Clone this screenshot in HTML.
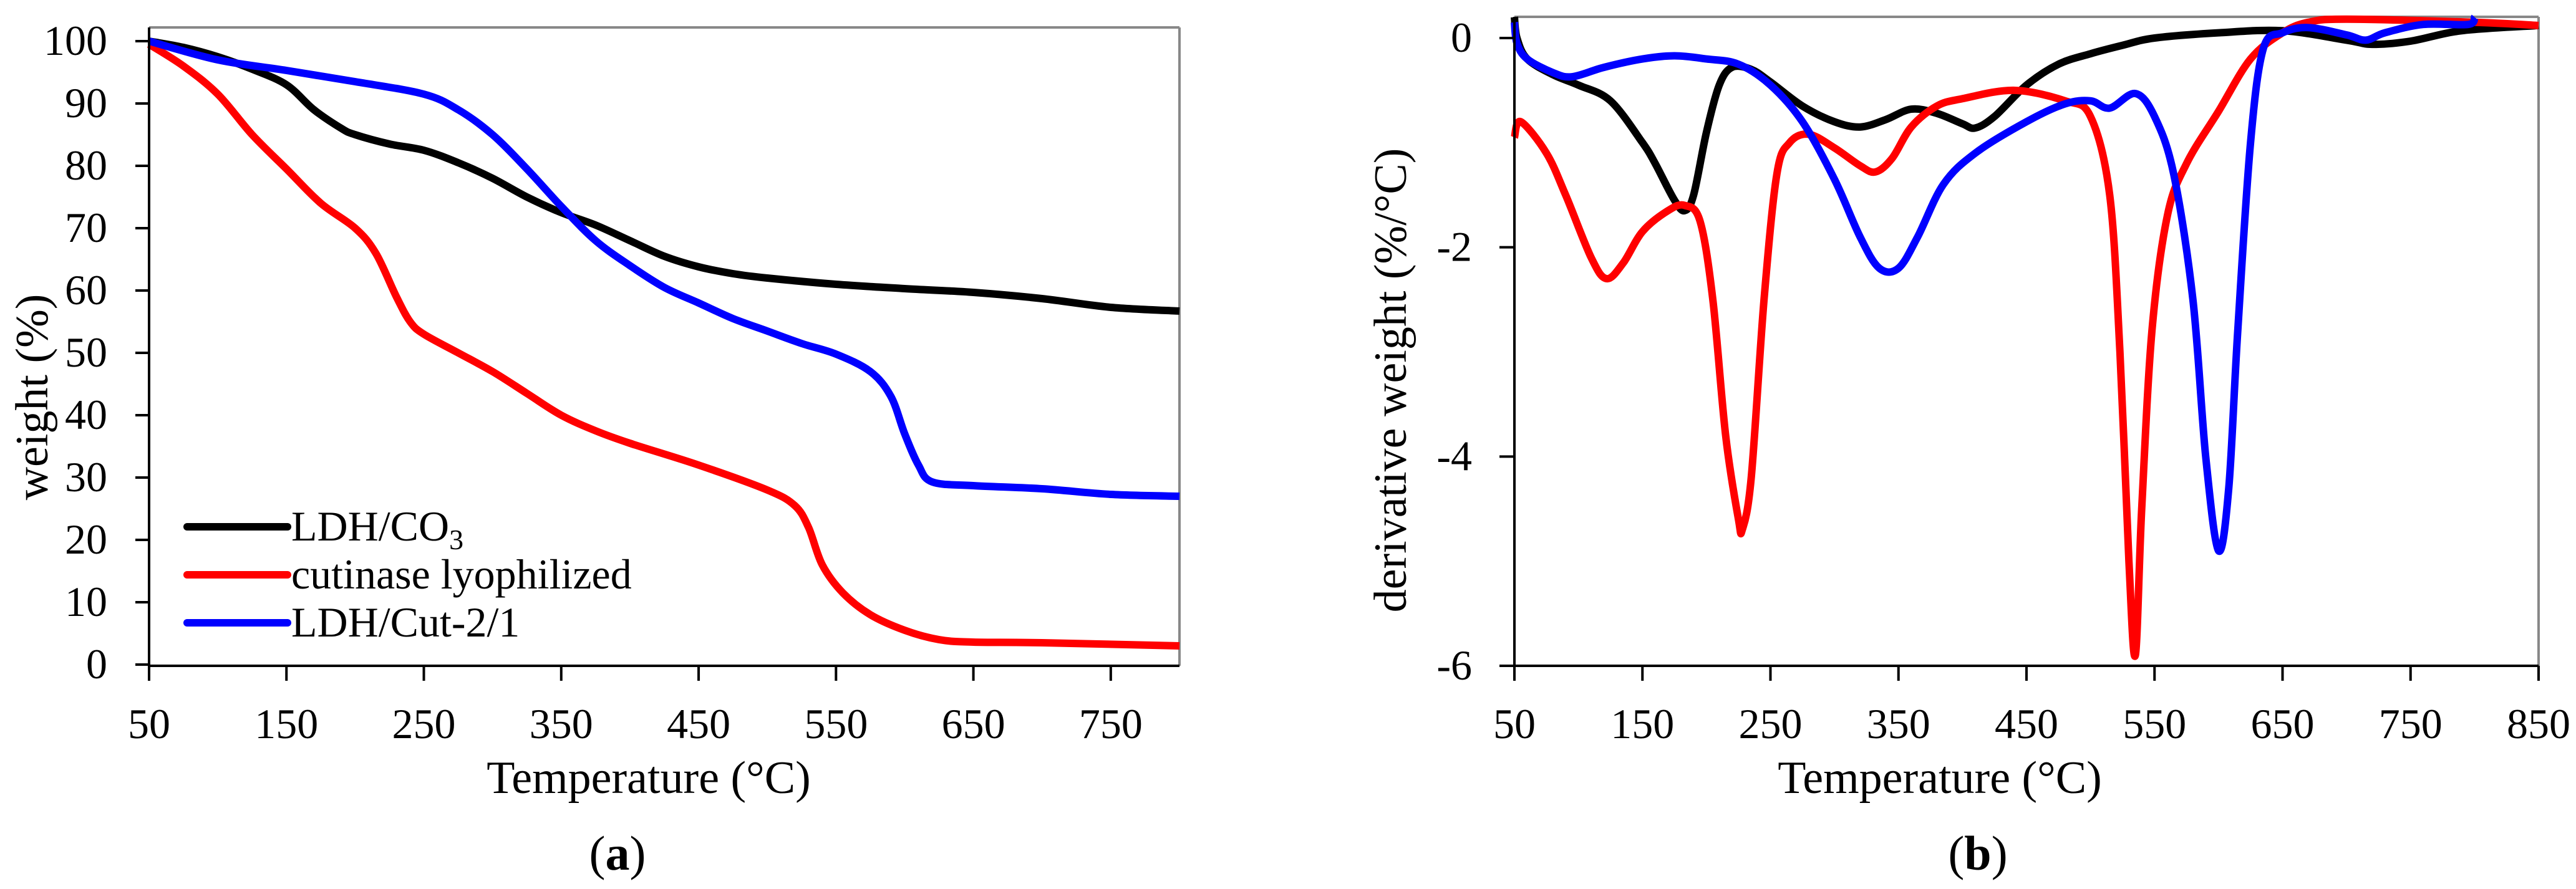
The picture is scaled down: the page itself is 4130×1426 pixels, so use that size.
<!DOCTYPE html>
<html><head><meta charset="utf-8"><style>
html,body{margin:0;padding:0;background:#fff;}
svg{display:block;}
text{font-family:"Liberation Serif",serif;fill:#000;}
</style></head><body>
<svg id="fig" width="4130" height="1426" viewBox="0 0 4130 1426" xmlns="http://www.w3.org/2000/svg"></svg>
<script>
// ---- Panel (a) data ----
const tgaBlackX=[50,75,100,125,150,170,190,200,225,250,275,300,325,350,375,400,425,450,475,500,550,600,650,700,750,800];
const tgaBlackY=[100,99,97.5,95.5,93,89,86,85,83.5,82.5,80.5,78,75,72.5,70.5,68,65.5,63.8,62.7,62,61,60.3,59.7,58.7,57.3,56.7];
const tgaRedX=[50,75,100,125,150,175,200,215,230,240,250,275,300,325,350,375,400,450,500,520,530,540,555,575,600,625,650,700,800];
const tgaRedY=[99.5,96,91.5,85,79.5,74,70,66,59,55,53,50,47,43.5,40,37.5,35.5,32,28,25.5,22,16,11.5,8,5.5,4,3.6,3.5,3];
const tgaBlueX=[50,100,150,200,250,275,300,325,350,375,400,425,450,475,500,525,550,575,590,600,610,620,650,700,750,800];
const tgaBlueY=[100,97,95.3,93.5,91.5,89,85,79.5,73.5,68,64,60.5,58,55.5,53.5,51.5,49.8,47,43,37,32,29.3,28.7,28.2,27.3,27];
const aXTicks=[50,150,250,350,450,550,650,750];
const aYTicks=[0,10,20,30,40,50,60,70,80,90,100];
const legendLabels=["LDH/CO","cutinase lyophilized","LDH/Cut-2/1"];
// ---- Panel (b) data ----
const dtgBlackX=[50,52,60,80,100,125,150,160,175,183,190,200,210,220,235,250,275,300,320,340,360,380,400,410,425,450,475,500,525,550,600,650,700,720,750,790,850];
const dtgBlackY=[0.2,0,-0.2,-0.35,-0.45,-0.6,-1.0,-1.2,-1.55,-1.65,-1.5,-0.9,-0.45,-0.28,-0.3,-0.42,-0.65,-0.8,-0.85,-0.78,-0.68,-0.72,-0.82,-0.86,-0.75,-0.45,-0.25,-0.15,-0.07,0,0.05,0.07,-0.02,-0.06,-0.03,0.07,0.12];
const dtgRedX=[50,55,75,90,110,122,135,150,170,183,195,205,215,225,228,235,245,255,265,280,300,320,332,345,360,380,400,440,480,500,515,523,530,535,540,548,560,575,600,625,650,670,700,800,850];
const dtgRedY=[-0.95,-0.8,-1.1,-1.5,-2.1,-2.3,-2.15,-1.85,-1.65,-1.6,-1.75,-2.5,-3.8,-4.6,-4.7,-4.2,-2.5,-1.3,-1.0,-0.92,-1.05,-1.22,-1.28,-1.15,-0.85,-0.65,-0.58,-0.5,-0.6,-0.75,-1.5,-3.0,-5.0,-5.9,-4.5,-2.8,-1.7,-1.2,-0.7,-0.2,0.05,0.15,0.18,0.15,0.12];
const dtgBlueX=[50,52,60,80,95,120,150,175,200,225,250,275,300,320,335,350,365,385,410,450,480,500,515,535,550,565,580,590,600,608,615,625,635,650,670,700,715,730,760,795,800];
const dtgBlueY=[0.15,-0.05,-0.2,-0.33,-0.37,-0.28,-0.2,-0.17,-0.2,-0.25,-0.45,-0.8,-1.35,-1.9,-2.2,-2.2,-1.9,-1.4,-1.1,-0.8,-0.63,-0.6,-0.67,-0.53,-0.75,-1.3,-2.5,-4.0,-4.9,-4.3,-2.8,-1.0,-0.1,0.05,0.1,0.03,-0.02,0.05,0.13,0.13,0.2];
const bXTicks=[50,150,250,350,450,550,650,750,850];
const bYTicks=[0,-2,-4,-6];

const NS="http://www.w3.org/2000/svg";
const svg=document.getElementById('fig');
function mk(tag,attrs,parent){const e=document.createElementNS(NS,tag);for(const k in attrs)e.setAttribute(k,attrs[k]);(parent||svg).appendChild(e);return e;}
function smooth(pts){let d="M"+pts[0][0].toFixed(1)+","+pts[0][1].toFixed(1);
 for(let i=0;i<pts.length-1;i++){const p0=pts[i-1]||pts[i],p1=pts[i],p2=pts[i+1],p3=pts[i+2]||p2;
  const c1=[p1[0]+(p2[0]-p0[0])/6,p1[1]+(p2[1]-p0[1])/6],c2=[p2[0]-(p3[0]-p1[0])/6,p2[1]-(p3[1]-p1[1])/6];
  d+="C"+c1[0].toFixed(1)+","+c1[1].toFixed(1)+" "+c2[0].toFixed(1)+","+c2[1].toFixed(1)+" "+p2[0].toFixed(1)+","+p2[1].toFixed(1);}
 return d;}

// Panel a scales
const ax=v=>239+(v-50)*(1891-239)/750;
const ay=v=>1066-v*10.0;
// Panel b scales
const bx=v=>2428+(v-50)*(4070-2428)/800;
const by=v=>61-v*(1068-61)/6;

// frames
let e;
e=mk('line',{x1:239,y1:44,x2:1891,y2:44,stroke:'#888',"stroke-width":4});

e=mk('line',{x1:1891,y1:44,x2:1891,y2:1068,stroke:'#888',"stroke-width":4});

e=mk('line',{x1:2428,y1:27,x2:4070,y2:27,stroke:'#888',"stroke-width":4});

e=mk('line',{x1:4070,y1:27,x2:4070,y2:1068,stroke:'#888',"stroke-width":4});


function series(X,Y,fx,fy,color,name){
 const pts=X.map((x,i)=>[fx(x),fy(Y[i])]);
 const p=mk('path',{d:smooth(pts),fill:'none',stroke:color,"stroke-width":12,"stroke-linejoin":'round'});
 
 
}
series(tgaBlackX,tgaBlackY,ax,ay,'#000','a-ldh-co3-line');
series(tgaRedX,tgaRedY,ax,ay,'#f00','a-cutinase-line');
series(tgaBlueX,tgaBlueY,ax,ay,'#00f','a-ldh-cut-line');
series(dtgBlackX,dtgBlackY,bx,by,'#000','b-ldh-co3-line');
series(dtgRedX,dtgRedY,bx,by,'#f00','b-cutinase-line');
series(dtgBlueX,dtgBlueY,bx,by,'#00f','b-ldh-cut-line');

// axes a
e=mk('line',{x1:239,y1:44,x2:239,y2:1068,stroke:'#000',"stroke-width":4});

e=mk('line',{x1:237,y1:1068,x2:1891,y2:1068,stroke:'#000',"stroke-width":4});

aXTicks.forEach(t=>{
 const l=mk('line',{x1:ax(t),y1:1068,x2:ax(t),y2:1092,stroke:'#000',"stroke-width":4});
 
 const tx=mk('text',{x:ax(t),y:1184,"font-size":68,"text-anchor":'middle'});tx.textContent=t;
 
});
aYTicks.forEach(t=>{
 const l=mk('line',{x1:217,y1:ay(t),x2:239,y2:ay(t),stroke:'#000',"stroke-width":4});
 
 const tx=mk('text',{x:172,y:ay(t)+22,"font-size":68,"text-anchor":'end'});tx.textContent=t;
 
});
// axes b
e=mk('line',{x1:2428,y1:27,x2:2428,y2:1068,stroke:'#000',"stroke-width":4});

e=mk('line',{x1:2426,y1:1068,x2:4070,y2:1068,stroke:'#000',"stroke-width":4});

bXTicks.forEach(t=>{
 const l=mk('line',{x1:bx(t),y1:1068,x2:bx(t),y2:1092,stroke:'#000',"stroke-width":4});
 
 const tx=mk('text',{x:bx(t),y:1184,"font-size":68,"text-anchor":'middle'});tx.textContent=t;
 
});
bYTicks.forEach(t=>{
 const l=mk('line',{x1:2404,y1:by(t),x2:2428,y2:by(t),stroke:'#000',"stroke-width":4});
 
 const tx=mk('text',{x:2360,y:by(t)+22,"font-size":68,"text-anchor":'end'});tx.textContent=t;
 
});

// titles
e=mk('text',{x:1040,y:1272,"font-size":74,"text-anchor":'middle'});e.textContent='Temperature (°C)';

e=mk('text',{x:0,y:0,"font-size":74,"text-anchor":'middle',transform:'translate(76,637) rotate(-90)'});e.textContent='weight (%)';

e=mk('text',{x:3110,y:1272,"font-size":74,"text-anchor":'middle'});e.textContent='Temperature (°C)';

e=mk('text',{x:0,y:0,"font-size":74,"text-anchor":'middle',transform:'translate(2254,610) rotate(-90)'});e.textContent='derivative weight (%/°C)';


// panel labels
e=mk('text',{x:990,y:1395,"font-size":78,"text-anchor":'middle'});
e.innerHTML='(<tspan font-weight="bold">a</tspan>)';

e=mk('text',{x:3171,y:1395,"font-size":78,"text-anchor":'middle'});
e.innerHTML='(<tspan font-weight="bold">b</tspan>)';


// legend
const legColors=['#000','#f00','#00f'];
const legY=[845,922,999];
legendLabels.forEach((lab,i)=>{
 const l=mk('line',{x1:300,y1:legY[i],x2:461,y2:legY[i],stroke:legColors[i],"stroke-width":12,"stroke-linecap":'round'});
 
 const t=mk('text',{x:467,y:legY[i]+22,"font-size":68});
 t.textContent=lab;
 if(i===0){const s=mk('tspan',{"font-size":46,dy:14},t);s.textContent='3';}
 
});
</script>
</body></html>
